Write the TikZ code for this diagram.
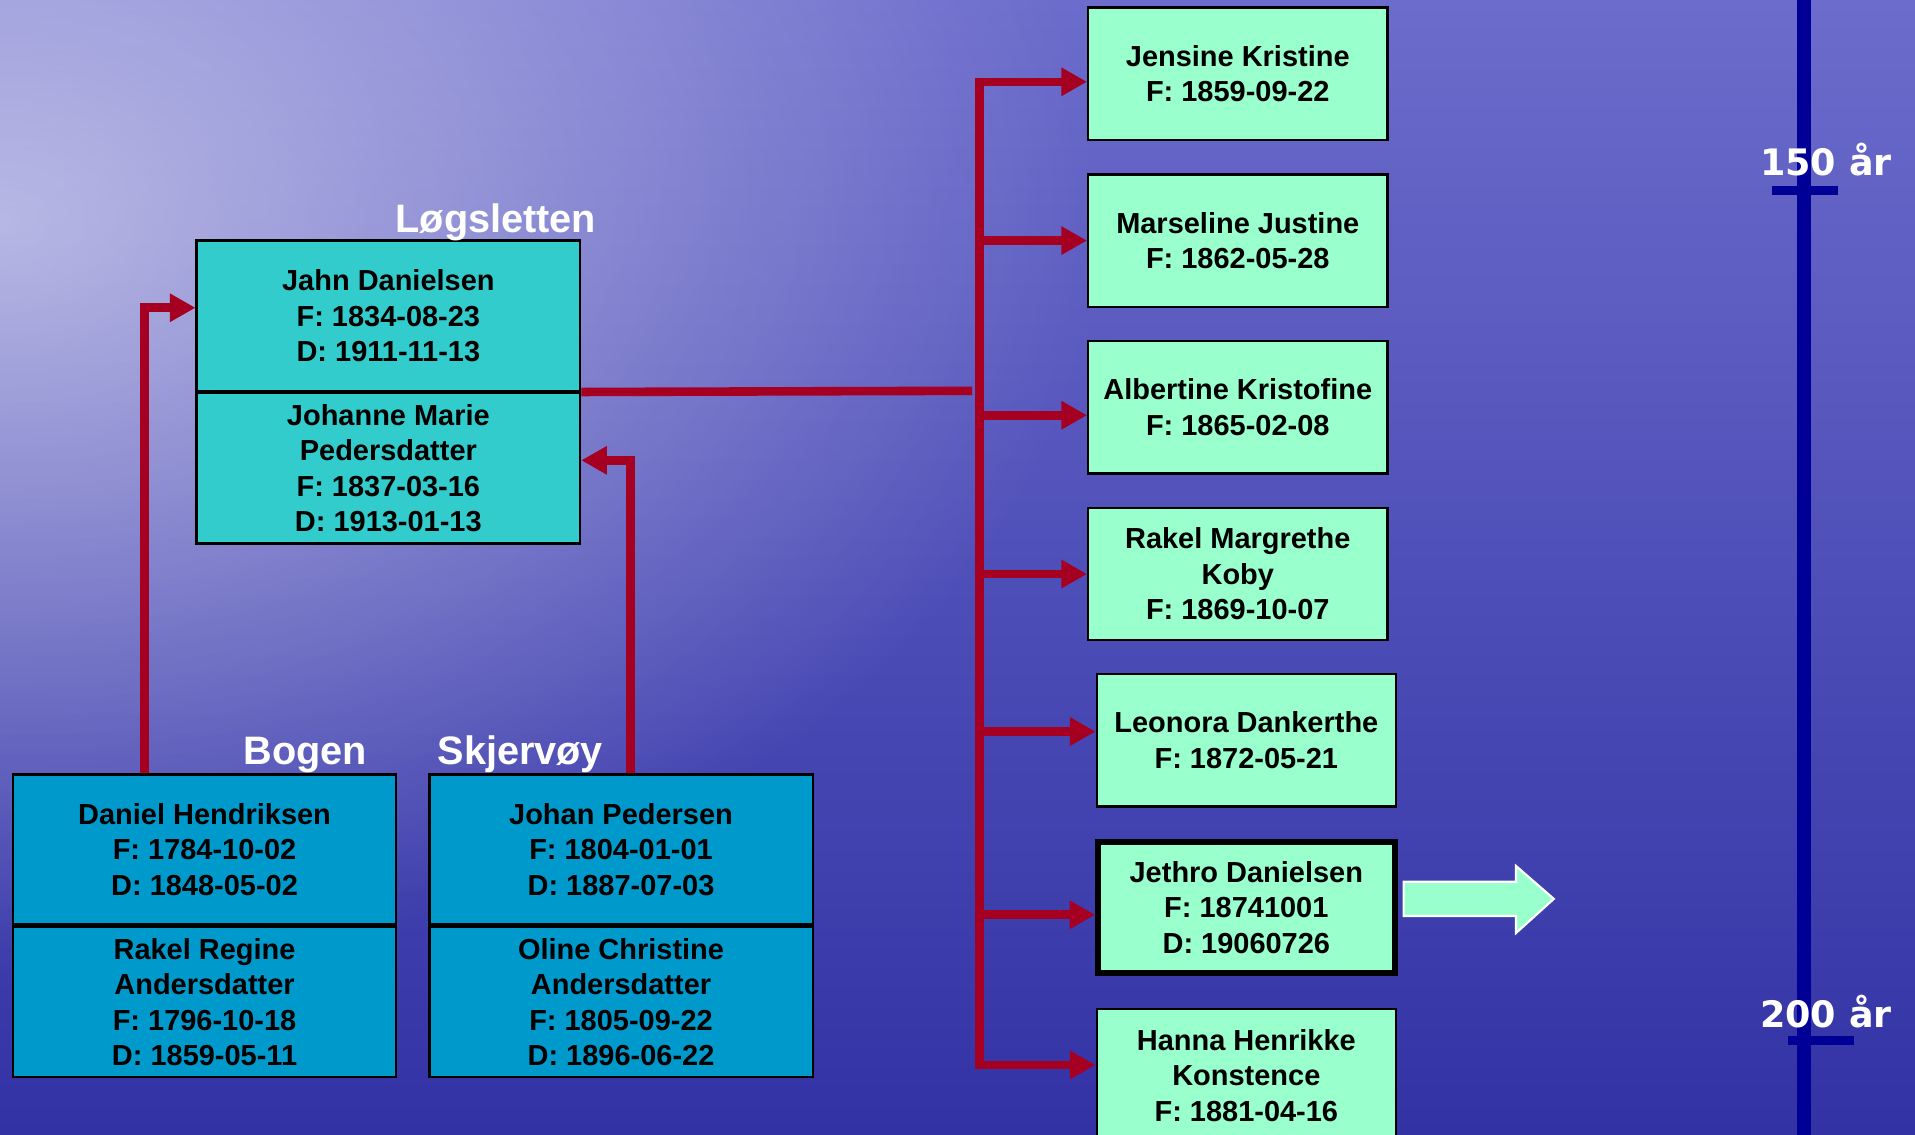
\documentclass[tikz,border=0pt]{standalone}
\usepackage{fontspec}
\setmainfont{Liberation Sans}
\newfontfamily\scalefont{DejaVu Sans}
\usetikzlibrary{positioning,arrows.meta,fadings}

\definecolor{linkred}{RGB}{165,0,33}
\definecolor{oldcyan}{RGB}{51,204,204}
\definecolor{oldblue}{RGB}{0,153,204}
\definecolor{kidmint}{RGB}{153,255,204}
\definecolor{timenavy}{RGB}{0,0,150}
\definecolor{seatop}{RGB}{108,108,204}
\definecolor{seamid}{RGB}{68,68,182}
\definecolor{seabot}{RGB}{50,50,165}

\tikzfading[name=fade band, top color=transparent!100, middle color=transparent!20, bottom color=transparent!100]
\tikzfading[name=fade glow, inner color=transparent!0, outer color=transparent!100]

\newcommand\boxfont{\fontsize{13.5}{16.5}\selectfont\bfseries}
\newcommand\placefont{\fontsize{18.5}{20}\selectfont\bfseries}

\begin{document}
\begin{tikzpicture}[x=0.02cm, y=-0.02cm,
    person/.style={draw=black, line width=1.1pt, align=center, inner sep=0pt, font=\boxfont},
    parent/.style={person, fill=oldcyan, minimum width=6.28cm, minimum height=2.46cm},
    grandparent/.style={person, fill=oldblue, minimum width=6.28cm, minimum height=2.46cm},
    kid/.style={person, fill=kidmint, minimum width=4.9cm, minimum height=2.17cm},
    place/.style={text=white, font=\placefont, anchor=base},
    link/.style={draw=linkred, line width=4pt, -{Triangle[length=0.42cm, width=0.44cm]}},
    years/.style={text=white, font=\scalefont\fontsize{17}{18}\selectfont\bfseries, anchor=base}]

    \useasboundingbox (0,0) rectangle (1568,929);
    % background
    \shade[top color=seatop, middle color=seamid, bottom color=seabot] (0,0) rectangle (1568,929);
    \fill[white, opacity=0.55, path fading=fade glow] (0,180) ellipse (900 and 620);
    \fill[white, opacity=0.4, path fading=fade band] (0,75) rectangle (1568,185);

    % timeline
    \draw[timenavy, line width=0.22cm] (1477,0) -- (1477,929);
    \draw[timenavy, line width=0.16cm] (1451,156) -- (1505,156);
    \draw[timenavy, line width=0.16cm] (1464,852) -- (1518,852);
    \node[years] (y150) at (1495,144) {150 år};
    \node[years] (y200) at (1495,841) {200 år};

    % grandparents
    \node[grandparent] (daniel) at (167.5,695.5) {Daniel Hendriksen\\F: 1784-10-02\\D: 1848-05-02};
    \node[grandparent, below=0pt of daniel] (rakelr) {Rakel Regine\\Andersdatter\\F: 1796-10-18\\D: 1859-05-11};
    \node[grandparent] (johan) at (508.5,695.5) {Johan Pedersen\\F: 1804-01-01\\D: 1887-07-03};
    \node[grandparent, below=0pt of johan] (oline) {Oline Christine\\Andersdatter\\F: 1805-09-22\\D: 1896-06-22};
    \node[place] (bogen) at (250,626) {Bogen};
    \node[place] (skjervoy) at (426,626) {Skjervøy};

    % parents
    \node[parent] (jahn) at (318,258.5) {Jahn Danielsen\\F: 1834-08-23\\D: 1911-11-13};
    \node[parent, below=0pt of jahn] (johanne) {Johanne Marie\\Pedersdatter\\F: 1837-03-16\\D: 1913-01-13};
    \node[place] (logsletten) at (406,190) {Løgsletten};

    \draw[link] ([xshift=2.18cm]daniel.north west) |- ([yshift=0.13cm]jahn.west);
    \draw[link] ([xshift=-3cm]johan.north east) |- ([yshift=0.13cm]johanne.east);

    % children
    \node[kid] (jensine) at (1013.5,60.5) {Jensine Kristine\\F: 1859-09-22};
    \node[kid] (marseline) at (1013.5,197) {Marseline Justine\\F: 1862-05-28};
    \node[kid] (albertine) at (1013.5,333.5) {Albertine Kristofine\\F: 1865-02-08};
    \node[kid] (rakelm) at (1013.5,470) {Rakel Margrethe\\Koby\\F: 1869-10-07};
    \node[kid] (leonora) at (1020.5,606) {Leonora Dankerthe\\F: 1872-05-21};
    \node[kid, line width=2.6pt, minimum width=4.86cm, minimum height=2.14cm] (jethro) at (1020.5,743) {Jethro Danielsen\\F: 18741001\\D: 19060726};
    \node[kid] (hanna) at (1020.5,880.5) {Hanna Henrikke\\Konstence\\F: 1881-04-16};

    \coordinate (bustop) at (802,67);
    \coordinate (busend) at (802,872);
    \coordinate (fork) at (796,320);

    \draw[linkred, line width=4pt] (jahn.south east) -- (fork);
    \draw[link, {Triangle[length=0.42cm, width=0.44cm]}-{Triangle[length=0.42cm, width=0.44cm]}]
        (hanna.west |- busend) -- (busend) -- (bustop) -- (jensine.west |- bustop);
    \foreach \kid/\yy in {marseline/197, albertine/340, rakelm/470, leonora/599, jethro/749}
        \draw[link] (bustop |- 0,\yy) -- (\kid.west |- 0,\yy);

    % next generation
    \draw[fill=kidmint, draw=white, line width=1pt, shift={(jethro.east)}]
        (5,-21) -- (97,-21) -- (97,-34) -- (128,-7) -- (97,21) -- (97,7) -- (5,7) -- cycle;
\end{tikzpicture}
\end{document}
